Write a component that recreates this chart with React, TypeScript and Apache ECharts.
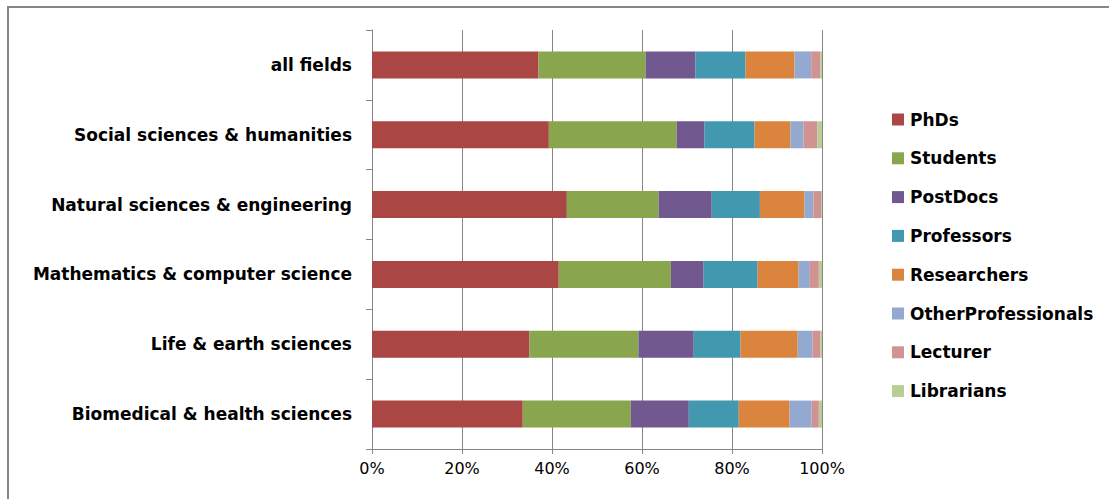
import React, { useEffect, useRef } from "react";
import * as echarts from "echarts";

const categories = [
  "all fields",
  "Social sciences & humanities",
  "Natural sciences & engineering",
  "Mathematics & computer science",
  "Life & earth sciences",
  "Biomedical & health sciences",
];

const seriesNames = [
  "PhDs",
  "Students",
  "PostDocs",
  "Professors",
  "Researchers",
  "OtherProfessionals",
  "Lecturer",
  "Librarians",
];

const phds = [37.0, 39.3, 43.3, 41.5, 35.0, 33.5];
const students = [23.8, 28.4, 20.4, 24.9, 24.2, 24.0];
const postdocs = [11.1, 6.2, 11.8, 7.3, 12.3, 12.9];
const professors = [11.1, 11.1, 10.7, 12.0, 10.4, 11.1];
const researchers = [10.9, 8.0, 9.9, 9.1, 12.7, 11.3];
const otherProfessionals = [3.7, 2.9, 2.0, 2.5, 3.3, 4.9];
const lecturer = [2.0, 3.1, 1.7, 2.0, 1.7, 1.6];
const librarians = [0.4, 1.0, 0.2, 0.7, 0.4, 0.7];

const xTicks = [0, 20, 40, 60, 80, 100];

const colors = [
  "#AA4643",
  "#89A54E",
  "#71588F",
  "#4198AF",
  "#DB843D",
  "#93A9CF",
  "#D19392",
  "#B9CD96",
];

export default function App() {
  const ref = useRef<HTMLDivElement>(null);

  useEffect(() => {
    document.body.style.margin = "0";
    if (!ref.current) return;
    const chart = echarts.init(ref.current, null, { renderer: "svg" });
    const values = [
      phds,
      students,
      postdocs,
      professors,
      researchers,
      otherProfessionals,
      lecturer,
      librarians,
    ];
    const gray = "#868686";
    chart.setOption({
      animation: false,
      backgroundColor: "#ffffff",
      color: colors,
      grid: { left: 372, right: 287, top: 30, bottom: 50, containLabel: false },
      xAxis: {
        type: "value",
        min: xTicks[0],
        max: xTicks[xTicks.length - 1],
        interval: 20,
        axisLine: { show: true, lineStyle: { color: gray, width: 1 } },
        axisTick: { show: true, length: 5, lineStyle: { color: gray } },
        splitLine: { show: true, lineStyle: { color: gray, width: 1 } },
        axisLabel: {
          formatter: "{value}%",
          fontFamily: "DejaVu Sans",
          fontSize: 16,
          color: "#000",
          margin: 11,
        },
      },
      yAxis: {
        type: "category",
        data: categories,
        inverse: true,
        axisLine: { show: true, lineStyle: { color: gray, width: 1 } },
        axisTick: { show: true, length: 6, lineStyle: { color: gray } },
        axisLabel: {
          fontFamily: "DejaVu Sans",
          fontWeight: "bold",
          fontSize: 17,
          color: "#000",
          margin: 20,
        },
      },
      legend: {
        orient: "vertical",
        left: 887,
        top: 106,
        icon: "rect",
        itemWidth: 12,
        itemHeight: 12,
        itemGap: 21.8,
        textStyle: {
          fontFamily: "DejaVu Sans",
          fontWeight: "bold",
          fontSize: 17,
          lineHeight: 16,
          color: "#000",
          padding: [0, 0, 0, 1],
        },
        data: seriesNames,
      },
      graphic: [
        {
          type: "rect",
          shape: { x: 8, y: 7, width: 1300, height: 700 },
          style: { fill: "none", stroke: gray, lineWidth: 2 },
          silent: true,
        },
      ],
      series: seriesNames.map((name, i) => ({
        name,
        type: "bar",
        stack: "total",
        barWidth: 27,
        data: values[i],
        itemStyle: { color: colors[i] },
      })),
    });
    return () => chart.dispose();
  }, []);

  return <div ref={ref} style={{ width: 1109, height: 499 }} />;
}
